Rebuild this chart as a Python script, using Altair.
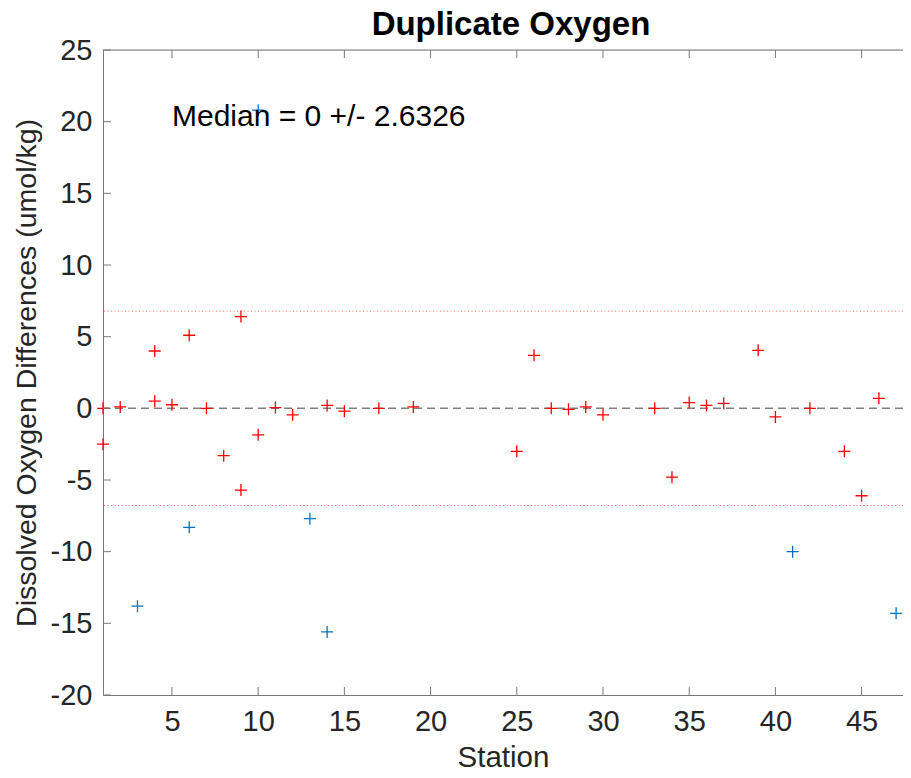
import altair as alt
import pandas as pd

# ---- data ----
red_station = [1, 1, 2, 4, 4, 5, 6, 7, 8, 9, 9, 10, 11, 12, 14, 15, 17, 19, 25, 26,
               27, 28, 29, 30, 33, 34, 35, 36, 37, 39, 40, 42, 44, 45, 46, 48]
red_diff = [0.0, -2.5, 0.1, 4.0, 0.5, 0.25, 5.1, 0.0, -3.3, 6.4, -5.7, -1.85, 0.05, -0.45,
            0.2, -0.2, 0.0, 0.1, -3.0, 3.7, 0.0, -0.07, 0.1, -0.45, 0.0, -4.8, 0.4, 0.2,
            0.35, 4.05, -0.6, 0.0, -3.0, -6.1, 0.7, 3.9]
blue_station = [3, 6, 10, 13, 14, 41, 47]
blue_diff = [-13.8, -8.3, 20.8, -7.7, -15.6, -10.0, -14.3]

median_value = [0.0]
limit_values = [-6.78, 6.78]
x_ticks = [5, 10, 15, 20, 25, 30, 35, 40, 45]
y_ticks = [-20, -15, -10, -5, 0, 5, 10, 15, 20, 25]
note_text = ["Median = 0 +/- 2.6326"]
note_x = [5]
note_y = [20.35]

FONT = "Liberation Sans"
TXT = "#262626"
AX = "#7a7a7a"

red_df = pd.DataFrame({"station": red_station, "diff": red_diff})
blue_df = pd.DataFrame({"station": blue_station, "diff": blue_diff})
med_df = pd.DataFrame({"v": median_value})
lim_df = pd.DataFrame({"v": limit_values})
xt_df = pd.DataFrame({"t": x_ticks})
yt_df = pd.DataFrame({"t": y_ticks})
note_df = pd.DataFrame({"label": note_text, "x": note_x, "y": note_y})

xscale = alt.Scale(domain=[1, 47.4], nice=False, zero=False)
yscale = alt.Scale(domain=[-20, 25], nice=False, zero=False)

xaxis = alt.Axis(values=x_ticks, ticks=False, grid=False, labelFontSize=29, labelPadding=12,
                 titleFontSize=29.5, titlePadding=7, titleFontWeight="normal",
                 labelExpr="'' + datum.value",
                 domainColor=AX, labelColor=TXT, titleColor=TXT, labelFont=FONT, titleFont=FONT)
yaxis = alt.Axis(values=y_ticks, ticks=False, grid=False, labelFontSize=29, labelPadding=11,
                 titleFontSize=28.5, titlePadding=9, titleFontWeight="normal",
                 labelExpr="'' + datum.value",
                 domainColor=AX, labelColor=TXT, titleColor=TXT, labelFont=FONT, titleFont=FONT)

X = lambda f: alt.X(f, type="quantitative", scale=xscale, axis=xaxis, title="Station")
Y = lambda f: alt.Y(f, type="quantitative", scale=yscale, axis=yaxis,
                    title="Dissolved Oxygen Differences (umol/kg)")

cross = "M-1,0L1,0M0,-1L0,1"

blue = alt.Chart(blue_df).mark_point(shape=cross, size=144, filled=False, color="#0072BD",
                                     strokeWidth=1.3, opacity=1).encode(x=X("station"), y=Y("diff"))
red = alt.Chart(red_df).mark_point(shape=cross, size=144, filled=False, color="#FF0000",
                                   strokeWidth=1.3, opacity=1).encode(x=X("station"), y=Y("diff"))

zero_line = alt.Chart(med_df).mark_rule(color="#808080", strokeDash=[8, 5], strokeWidth=1.5).encode(y=Y("v"))
lim_lines = alt.Chart(lim_df).mark_rule(color="#FF0000", strokeDash=[1, 2.5], strokeWidth=1,
                                        opacity=0.6).encode(y=Y("v"))

note = alt.Chart(note_df).mark_text(align="left", baseline="middle", fontSize=30, font=FONT,
                                    color="#000000").encode(x=X("x"), y=Y("y"), text="label:N")

ytick_marks = alt.Chart(yt_df).mark_rule(color=AX, strokeWidth=1).encode(
    y=Y("t"), x=alt.value(0), x2=alt.value(8))
xtick_bottom = alt.Chart(xt_df).mark_rule(color=AX, strokeWidth=1).encode(
    x=X("t"), y=alt.value(645), y2=alt.value(637))
xtick_top = alt.Chart(xt_df).mark_rule(color=AX, strokeWidth=1).encode(
    x=X("t"), y=alt.value(0), y2=alt.value(8))
top_frame = alt.Chart(med_df).mark_rule(color=AX, strokeWidth=1).encode(y=alt.value(0))

chart = alt.layer(
    lim_lines, zero_line, blue, red, note, ytick_marks, xtick_bottom, xtick_top, top_frame
).properties(
    width=800, height=645,
    autosize=alt.AutoSizeParams(type="none"),
    padding={"left": 95, "top": 42, "right": 0, "bottom": 75},
    title=alt.TitleParams("Duplicate Oxygen", fontSize=33, fontWeight="bold", font=FONT,
                          color="#000000", anchor="middle", frame="group", offset=0,
                          dy=6, dx=8),
).configure_view(stroke=None).configure(background="white")

chart.save("out.html", embed_options={"renderer": "svg", "actions": False})
